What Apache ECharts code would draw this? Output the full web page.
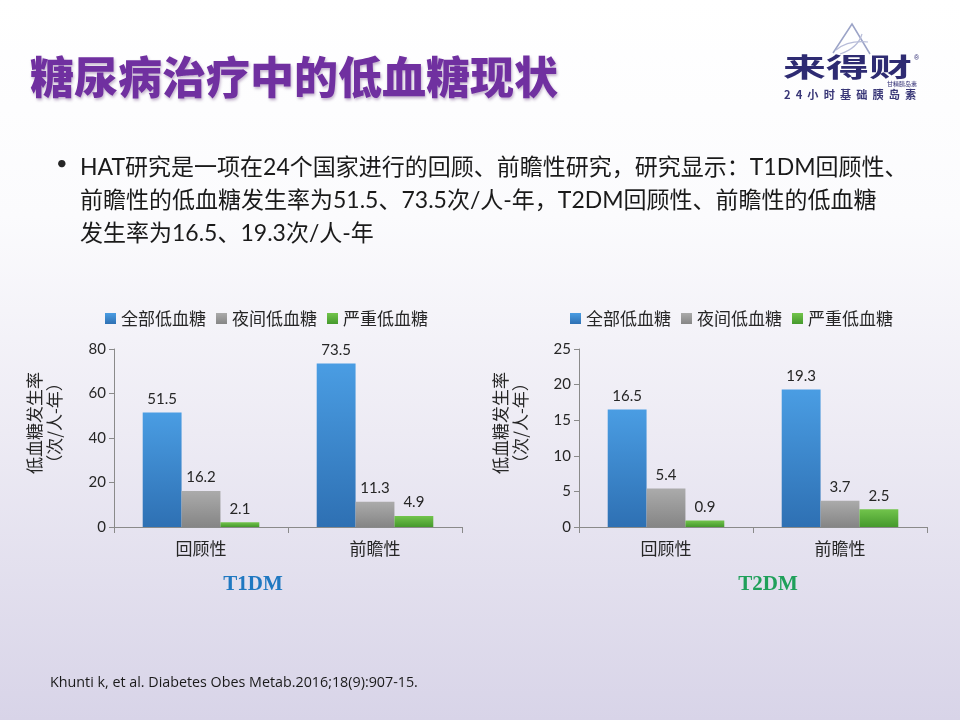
<!DOCTYPE html>
<html>
<head>
<meta charset="utf-8">
<script src="https://cdn.jsdelivr.net/npm/echarts@6/dist/echarts.min.js"></script>
<style>
html,body{margin:0;padding:0;width:960px;height:720px;overflow:hidden;}
#main{width:960px;height:720px;}
</style>
</head>
<body>
<div id="main"></div>
<script>
const categories = ['回顾性', '前瞻性'];
const seriesNames = ['全部低血糖', '夜间低血糖', '严重低血糖'];
const t1All = [51.5, 73.5];
const t1Night = [16.2, 11.3];
const t1Severe = [2.1, 4.9];
const t2All = [16.5, 19.3];
const t2Night = [5.4, 3.7];
const t2Severe = [0.9, 2.5];
const t1Ticks = { min: 0, max: 80, interval: 20 };
const t2Ticks = { min: 0, max: 25, interval: 5 };

const FONT = "Lato, 'Noto Sans CJK SC', sans-serif";
const CJK = "'Noto Sans CJK SC', sans-serif";

function grad(top, bottom) {
  return new echarts.graphic.LinearGradient(0, 0, 0, 1, [
    { offset: 0, color: top }, { offset: 1, color: bottom }
  ]);
}
const colors = [
  grad('#4A9DE3', '#2E70B3'),
  grad('#ABABAB', '#858585'),
  grad('#72C44C', '#45992C')
];

function barSeries(name, data, idx, ci) {
  return {
    name: name, type: 'bar', xAxisIndex: idx, yAxisIndex: idx, data: data,
    barGap: '0%', barCategoryGap: '33%',
    itemStyle: { color: colors[ci] },
    label: { show: true, position: 'top', distance: 6, color: '#262626', fontSize: 15, fontFamily: FONT }
  };
}

function xAx(idx) {
  return {
    type: 'category', gridIndex: idx, data: categories,
    axisLine: { lineStyle: { color: '#8A8A8A', width: 1 } },
    axisTick: { show: true, length: 6, lineStyle: { color: '#8A8A8A' } },
    axisLabel: { color: '#262626', fontSize: 17, fontFamily: CJK, margin: 13 }
  };
}
function yAx(idx, t) {
  return {
    type: 'value', gridIndex: idx, min: t.min, max: t.max, interval: t.interval,
    axisLine: { show: true, lineStyle: { color: '#8A8A8A', width: 1 } },
    axisTick: { show: true, length: 5, lineStyle: { color: '#8A8A8A' } },
    splitLine: { show: false },
    axisLabel: { color: '#262626', fontSize: 15, fontFamily: FONT, margin: 8 }
  };
}

const chart = echarts.init(document.getElementById('main'));
chart.setOption({
  animation: false,
  backgroundColor: new echarts.graphic.LinearGradient(0, 0, 0, 1, [
    { offset: 0, color: '#FFFFFF' },
    { offset: 0.3, color: '#FBFBFD' },
    { offset: 0.6, color: '#EDEBF4' },
    { offset: 1, color: '#D8D4E8' }
  ]),
  legend: [
    { data: seriesNames, left: 100, top: 305, itemWidth: 11, itemHeight: 11, itemGap: 10,
      icon: 'rect', textStyle: { fontSize: 17, color: '#262626', fontFamily: CJK } },
    { data: seriesNames, left: 565, top: 305, itemWidth: 11, itemHeight: 11, itemGap: 10,
      icon: 'rect', textStyle: { fontSize: 17, color: '#262626', fontFamily: CJK } }
  ],
  grid: [
    { left: 114, top: 349, width: 348, height: 178, containLabel: false },
    { left: 579, top: 349, width: 348, height: 178, containLabel: false }
  ],
  xAxis: [xAx(0), xAx(1)],
  yAxis: [yAx(0, t1Ticks), yAx(1, t2Ticks)],
  series: [
    barSeries(seriesNames[0], t1All, 0, 0),
    barSeries(seriesNames[1], t1Night, 0, 1),
    barSeries(seriesNames[2], t1Severe, 0, 2),
    barSeries(seriesNames[0], t2All, 1, 0),
    barSeries(seriesNames[1], t2Night, 1, 1),
    barSeries(seriesNames[2], t2Severe, 1, 2)
  ],
  graphic: [
    { type: 'text', left: 30, top: 55, style: {
        text: '糖尿病治疗中的低血糖现状', fontSize: 44, fontWeight: 900, fontFamily: CJK,
        fill: '#7030A0', textShadowColor: 'rgba(60,0,90,0.3)', textShadowBlur: 3,
        textShadowOffsetX: 1, textShadowOffsetY: 2 } },
    // logo
    { type: 'polyline', shape: { points: [[833, 53], [852, 24], [870, 54]] },
      style: { stroke: '#9BA3C7', lineWidth: 1.5, fill: null } },
    { type: 'bezierCurve', shape: { x1: 836, y1: 50, x2: 868, y2: 42, cpx1: 848, cpy1: 40 },
      style: { stroke: '#B7BCD8', lineWidth: 1.2, fill: null } },
    { type: 'bezierCurve', shape: { x1: 840, y1: 54, x2: 862, y2: 34, cpx1: 858, cpy1: 48 },
      style: { stroke: '#B7BCD8', lineWidth: 1.2, fill: null } },
    { type: 'text', x: 783, y: 67, scaleY: 0.62, style: {
        text: '来得财', fontSize: 43, fontWeight: 'bold', fontFamily: CJK, fill: '#2E2B72',
        verticalAlign: 'middle' } },
    { type: 'text', left: 914, top: 55, style: { text: '®', fontSize: 7, fill: '#2E2B72' } },
    { type: 'text', left: 887, top: 81, style: {
        text: '甘精胰岛素', fontSize: 6, fontFamily: CJK, fill: '#2E2B72' } },
    { type: 'text', left: 784, top: 89, style: {
        text: '2  4  小  时  基  础  胰  岛  素', fontSize: 11.2, fontWeight: 'bold', fontFamily: CJK, fill: '#3A3878' } },
    // bullet text
    { type: 'text', left: 56, top: 154, style: { text: '•', fontSize: 20, fill: '#262626', fontFamily: FONT } },
    { type: 'text', left: 80, top: 151, style: {
        text: 'HAT研究是一项在24个国家进行的回顾、前瞻性研究，研究显示：T1DM回顾性、\n前瞻性的低血糖发生率为51.5、73.5次/人-年，T2DM回顾性、前瞻性的低血糖\n发生率为16.5、19.3次/人-年',
        fontSize: 23, lineHeight: 33, fill: '#1A1A1A', fontFamily: "Lato, 'Noto Sans CJK SC', sans-serif" } },
    // y-axis names
    { type: 'text', x: 45, y: 423, rotation: Math.PI / 2, style: {
        text: '低血糖发生率\n（次/人-年）', fontSize: 17, lineHeight: 20, align: 'center', verticalAlign: 'middle',
        fill: '#262626', fontFamily: CJK } },
    { type: 'text', x: 511, y: 423, rotation: Math.PI / 2, style: {
        text: '低血糖发生率\n（次/人-年）', fontSize: 17, lineHeight: 20, align: 'center', verticalAlign: 'middle',
        fill: '#262626', fontFamily: CJK } },
    // group labels
    { type: 'text', x: 253, y: 585, style: {
        text: 'T1DM', fontSize: 21, fontWeight: 'bold', fontFamily: "'Liberation Serif', 'Times New Roman', serif",
        fill: '#1F78C1', align: 'center', verticalAlign: 'middle' } },
    { type: 'text', x: 768, y: 585, style: {
        text: 'T2DM', fontSize: 21, fontWeight: 'bold', fontFamily: "'Liberation Serif', 'Times New Roman', serif",
        fill: '#1FA05A', align: 'center', verticalAlign: 'middle' } },
    // footnote
    { type: 'text', left: 50, top: 676, style: {
        text: 'Khunti k, et al. Diabetes Obes Metab.2016;18(9):907-15.', fontSize: 14.3,
        fill: '#1A1A1A', fontFamily: "'Open Sans', sans-serif" } }
  ]
});
</script>
</body>
</html>
